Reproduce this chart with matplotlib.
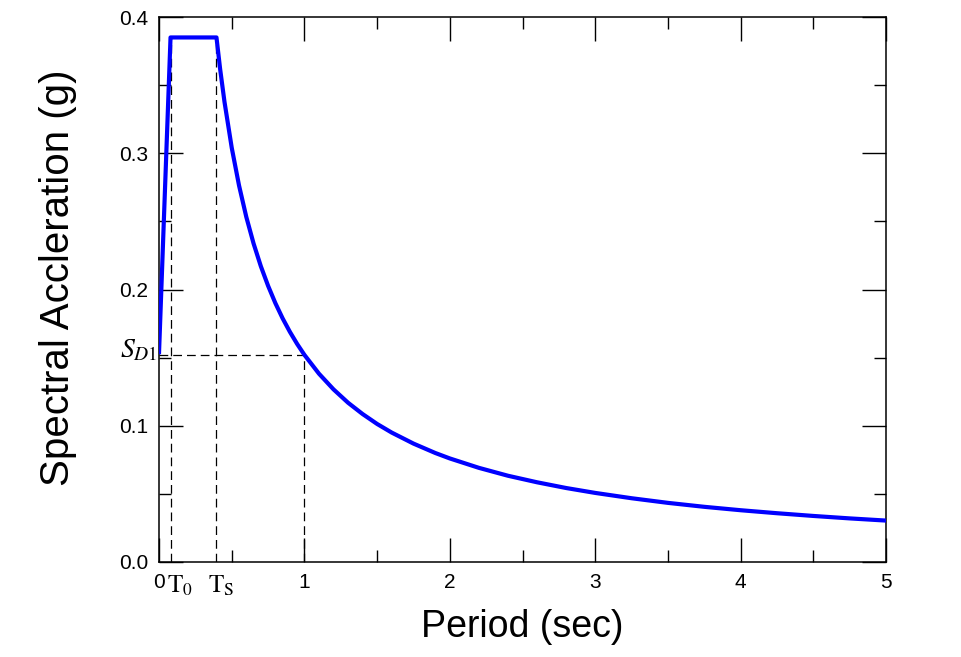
import numpy as np
import matplotlib
matplotlib.use("Agg")
import matplotlib.pyplot as plt
from matplotlib.ticker import MultipleLocator
import matplotlib.transforms as mtransforms

plt.rcParams['font.family'] = ['Liberation Sans', 'DejaVu Sans']
plt.rcParams['mathtext.fontset'] = 'stix'

# design spectrum values
sds = 0.385
sd1 = 0.152
t0 = 0.079
ts = 0.395

period = [0.0, 0.079, 0.395, 0.42, 0.45, 0.5, 0.55, 0.6, 0.65, 0.7, 0.75, 0.8,
          0.85, 0.9, 0.95, 1.0, 1.1, 1.2, 1.3, 1.4, 1.5, 1.6, 1.75, 1.9, 2.0,
          2.2, 2.4, 2.6, 2.8, 3.0, 3.25, 3.5, 3.75, 4.0, 4.25, 4.5, 4.75, 5.0]
accel = [0.1540, 0.3850, 0.3850, 0.3619, 0.3378, 0.3040, 0.2764, 0.2533,
         0.2338, 0.2171, 0.2027, 0.1900, 0.1788, 0.1689, 0.1600, 0.1520,
         0.1382, 0.1267, 0.1169, 0.1086, 0.1013, 0.0950, 0.0869, 0.0800,
         0.0760, 0.0691, 0.0633, 0.0585, 0.0543, 0.0507, 0.0468, 0.0434,
         0.0405, 0.0380, 0.0358, 0.0338, 0.0320, 0.0304]

xticks = [0, 1, 2, 3, 4, 5]
xticklabels = ['0', '1', '2', '3', '4', '5']
yticks = [0.0, 0.1, 0.2, 0.3, 0.4]
yticklabels = ['0.0', '0.1', '0.2', '0.3', '0.4']

fig = plt.figure(figsize=(9.61, 6.57), dpi=100)
ax = fig.add_axes([0.1655, 0.1446, 0.7565, 0.8295])

ax.plot(period, accel, color='#0000ff', linewidth=3.0, zorder=3,
        solid_joinstyle='round')

dash = dict(color='black', linewidth=0.9, linestyle=(0, (7, 4)), zorder=2)
ax.plot([t0, t0], [0, sds], **dash)
ax.plot([ts, ts], [0, sds], **dash)
ax.plot([0, 1.0], [sd1, sd1], **dash)
ax.plot([1.0, 1.0], [0, sd1], **dash)

ax.set_xlim(0, 5)
ax.set_ylim(0, 0.4)
ax.set_xticks(xticks)
ax.set_xticklabels(xticklabels, fontsize=15)
ax.set_yticks(yticks)
ax.set_yticklabels(yticklabels, fontsize=15)
ax.xaxis.set_minor_locator(MultipleLocator(0.5))
ax.yaxis.set_minor_locator(MultipleLocator(0.05))
ax.tick_params(which='both', direction='in', top=True, right=True, width=1.0)
ax.tick_params(which='major', length=17, pad=8)
ax.tick_params(which='minor', length=8.5)
for s in ax.spines.values():
    s.set_linewidth(1.1)

trans = mtransforms.blended_transform_factory(ax.transData, ax.transAxes)
ax.text(0.145, -0.022, r'$\mathrm{T}_0$', transform=trans, ha='center',
        va='top', fontsize=18)
ax.text(0.43, -0.022, r'$\mathrm{T}_\mathrm{S}$', transform=trans, ha='center',
        va='top', fontsize=18)
ax.text(-0.01, sd1 + 0.003, r'$S_{D1}$', ha='right', va='center', fontsize=20)

ax.set_xlabel('Period (sec)', fontsize=27, labelpad=12)
ax.set_ylabel('Spectral Accleration (g)', fontsize=29)
ax.yaxis.set_label_coords(-0.113, 0.521)

fig.savefig('out.png', dpi=100)
